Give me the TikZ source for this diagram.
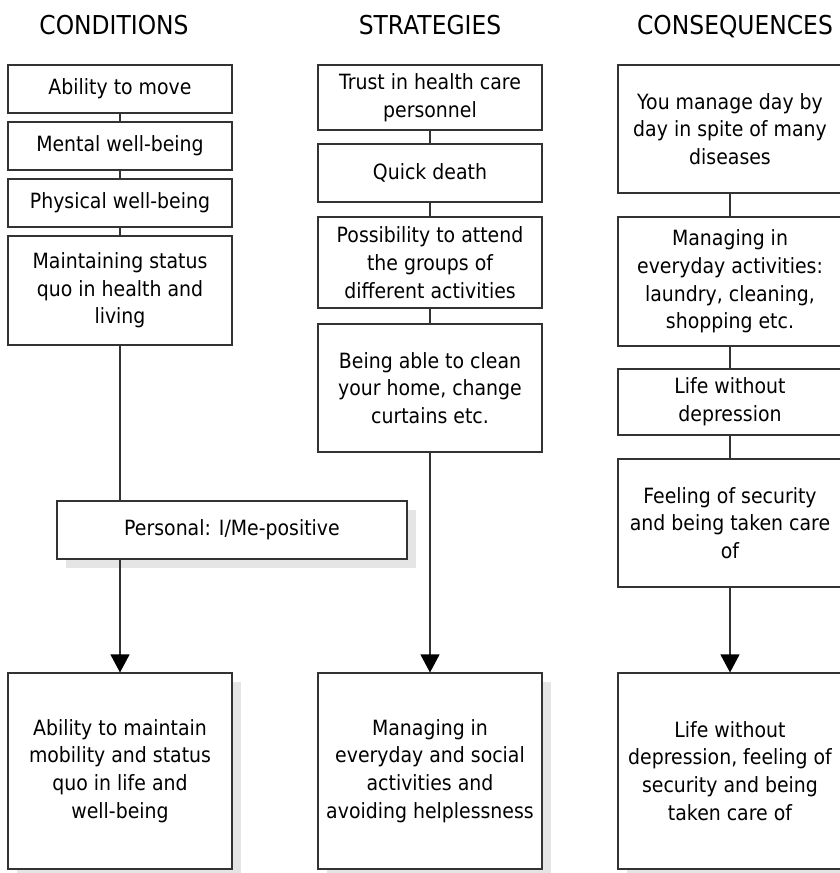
\documentclass[tikz,border=0pt]{standalone}
\usepackage{fontspec}
\setmainfont{DejaVu Sans}[FakeStretch=0.9]
\usetikzlibrary{arrows.meta,shadows}

\newcommand{\bodyfont}{\fontsize{21}{27.7}\selectfont}
\newcommand{\headfont}{\fontsize{26}{30}\selectfont}

\tikzset{
  box/.style={draw=black!80, line width=1.1pt, fill=white, align=center,
              inner sep=0pt, font=\bodyfont, minimum width=224pt},
  shbox/.style={box, drop shadow={shadow xshift=9pt, shadow yshift=-9pt,
              fill=black!10, opacity=1, draw=none}},
  link/.style={draw=black!80, line width=1.1pt},
  arrowlink/.style={link, -{Triangle[width=19pt,length=18pt,color=black]}},
  heading/.style={font=\headfont, anchor=base, inner sep=0pt},
}

\begin{document}
\begin{tikzpicture}[x=1pt,y=-1pt]
\useasboundingbox (0,0) rectangle (840,873);

% column headings
\node[heading] (h1) at (114,34) {CONDITIONS};
\node[heading] (h2) at (430,34) {STRATEGIES};
\node[heading] (h3) at (735,34) {CONSEQUENCES};

% conditions
\node[box, minimum height=48pt]  (c1) at (120,89)    {Ability to move};
\node[box, minimum height=48pt]  (c2) at (120,146)   {Mental well-being};
\node[box, minimum height=48pt]  (c3) at (120,203)   {Physical well-being};
\node[box, minimum height=109pt] (c4) at (120,290.5) {Maintaining status\\quo in health and\\living};

% strategies
\node[box, minimum height=65pt]  (s1) at (430,97.5)  {Trust in health care\\personnel};
\node[box, minimum height=58pt]  (s2) at (430,173)   {Quick death};
\node[box, minimum height=91pt]  (s3) at (430,262.5) {Possibility to attend\\the groups of\\different activities};
\node[box, minimum height=128pt] (s4) at (430,388)   {Being able to clean\\your home, change\\curtains etc.};

% consequences
\node[box, minimum height=128pt] (q1) at (730,129)   {You manage day by\\day in spite of many\\diseases};
\node[box, minimum height=129pt] (q2) at (730,281.5) {Managing in\\everyday activities:\\laundry, cleaning,\\shopping etc.};
\node[box, minimum height=66pt]  (q3) at (730,402)   {Life without\\depression};
\node[box, minimum height=128pt] (q4) at (730,523)   {Feeling of security\\and being taken care\\of};

% intervening condition
\node[shbox, minimum width=350pt, minimum height=58pt] (pers) at (232,530) {Personal: I/Me-positive};

% outcomes
\node[shbox, minimum height=196pt] (r1) at (120,771) {Ability to maintain\\mobility and status\\quo in life and\\well-being};
\node[shbox, minimum height=196pt] (r2) at (430,771) {Managing in\\everyday and social\\activities and\\avoiding helplessness};
\node[shbox, minimum height=196pt] (r3) at (730,771) {Life without\\depression, feeling of\\security and being\\taken care of};

% connectors within the stacks
\draw[link] (c1) -- (c2);
\draw[link] (c2) -- (c3);
\draw[link] (c3) -- (c4);
\draw[link] (s1) -- (s2);
\draw[link] (s2) -- (s3);
\draw[link] (s3) -- (s4);
\draw[link] (q1) -- (q2);
\draw[link] (q2) -- (q3);
\draw[link] (q3) -- (q4);

% connectors to the outcomes
\draw[link] (c4) -- (c4 |- pers.north);
\draw[arrowlink] (r1 |- pers.south) -- (r1);
\draw[arrowlink] (s4) -- (r2);
\draw[arrowlink] (q4) -- (r3);
\end{tikzpicture}
\end{document}
